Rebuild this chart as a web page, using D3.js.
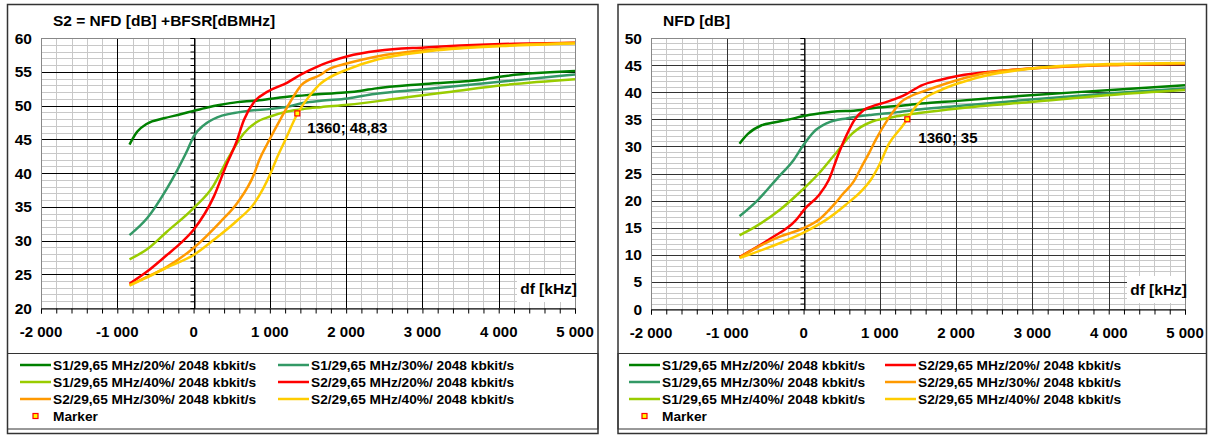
<!DOCTYPE html>
<html>
<head>
<meta charset="utf-8">
<script src="https://cdn.jsdelivr.net/npm/d3@7"></script>
<style>
  body { margin: 0; background: #fff; }
  svg { display: block; }
  text { font-family: Arial, "Liberation Sans", sans-serif; font-weight: bold; fill: #000; }
</style>
</head>
<body>
<svg id="chart" width="1208" height="437"></svg>
<script>
const series_names = [
    "S1/29,65 MHz/20%/ 2048 kbkit/s",
    "S1/29,65 MHz/30%/ 2048 kbkit/s",
    "S1/29,65 MHz/40%/ 2048 kbkit/s",
    "S2/29,65 MHz/20%/ 2048 kbkit/s",
    "S2/29,65 MHz/30%/ 2048 kbkit/s",
    "S2/29,65 MHz/40%/ 2048 kbkit/s"
];
const series_colors = ["#008000", "#339966", "#99cc00", "#ff0000", "#ff9900", "#ffcc00"];

const x_ticks = [-2000, -1000, 0, 1000, 2000, 3000, 4000, 5000];
const left_y_ticks = [20, 25, 30, 35, 40, 45, 50, 55, 60];
const right_y_ticks = [0, 5, 10, 15, 20, 25, 30, 35, 40, 45, 50];

// left chart: S2 = NFD + BFSR
const left_s1_20 = [[-840,44.2],[-740,46.1],[-610,47.3],[-390,48.1],[-170,48.7],[0,49.2],[180,49.7],[355,50.1],[575,50.5],[795,50.7],[1015,51.0],[1230,51.3],[1450,51.5],[1670,51.7],[2020,51.95],[2200,52.2],[2370,52.5],[3030,53.2],[3820,53.9],[4040,54.3],[5000,55.1]];
const left_s1_30 = [[-840,30.8],[-610,33.3],[-350,37.7],[-215,40.4],[-80,43.4],[0,45.4],[135,47.1],[310,48.25],[490,48.8],[705,49.2],[1015,49.5],[1230,49.8],[1450,50.4],[1670,50.7],[2020,51.05],[2370,51.7],[3030,52.4],[3820,53.3],[5000,54.6]];
const left_s1_40 = [[-840,27.2],[-610,28.7],[-350,31.3],[0,34.8],[265,38.2],[355,40.1],[440,41.9],[490,42.9],[660,45.9],[835,47.6],[1015,48.4],[1230,49.1],[1450,49.5],[1670,49.75],[2020,50.1],[2720,51.1],[3380,52.05],[4040,53.0],[5000,53.9]];
const left_s2_20 = [[-840,23.6],[-610,25.4],[-350,27.85],[-170,29.6],[0,31.6],[265,36.5],[430,41.2],[555,44.4],[660,47.85],[795,50.55],[970,52.05],[1230,53.4],[1410,54.6],[1630,55.8],[1760,56.4],[2020,57.3],[2420,58.1],[3030,58.6],[4040,59.1],[5000,59.3]];
const left_s2_30 = [[-840,23.4],[-610,24.6],[-350,26.1],[0,28.9],[355,32.8],[575,35.6],[795,39.9],[860,41.9],[970,44.4],[1145,48.1],[1365,52.3],[1410,53.0],[1670,54.6],[1760,55.3],[2020,56.25],[2420,57.3],[3030,58.2],[4040,58.9],[5000,59.3]];
const left_s2_40 = [[-840,23.3],[-610,24.55],[-350,26.0],[0,27.85],[265,30.1],[575,33.0],[795,35.5],[1015,40.1],[1080,41.9],[1190,44.6],[1365,48.85],[1540,51.7],[1670,53.3],[1760,54.0],[2020,55.36],[2420,56.85],[3030,57.97],[4040,58.8],[5000,59.2]];

// right chart: NFD
const right_s1_20 = [[-840,30.5],[-730,32.3],[-550,33.9],[-390,34.4],[-210,34.9],[0,35.6],[220,36.1],[440,36.5],[660,36.6],[880,37.0],[1100,37.3],[1280,37.5],[1540,37.9],[2020,38.4],[3020,39.5],[4030,40.4],[5000,41.3]];
const right_s1_30 = [[-840,17.1],[-600,20.1],[-340,24.2],[-130,27.5],[0,30.3],[135,32.7],[310,34.3],[575,35.2],[880,35.8],[1100,36.1],[1280,36.4],[1540,36.85],[2020,37.45],[3020,38.7],[4030,39.8],[5000,40.7]];
const right_s1_40 = [[-840,13.6],[-630,15.2],[-310,18.3],[-60,21.4],[200,25.0],[420,28.7],[640,32.4],[900,34.6],[1100,35.2],[1280,35.7],[1540,36.2],[2020,37.0],[3020,38.25],[4030,39.5],[5000,40.4]];
const right_s2_20 = [[-840,9.6],[-433,13.0],[-100,16.4],[25,18.6],[200,21.0],[330,23.8],[460,28.7],[595,33.0],[660,34.7],[790,36.7],[880,37.3],[1100,38.25],[1340,39.6],[1450,40.5],[1540,41.2],[1800,42.3],[2020,43.0],[2590,43.95],[3020,44.4],[4030,45.0],[5000,45.2]];
const right_s2_30 = [[-840,9.5],[-590,11.5],[-320,13.3],[0,14.9],[220,16.7],[395,19.2],[520,21.3],[660,23.6],[770,26.5],[860,28.8],[945,31.2],[1100,34.9],[1230,37.4],[1280,38.2],[1410,39.3],[1620,40.4],[2020,42.25],[2370,43.5],[3020,44.4],[4030,45.0],[5000,45.3]];
const right_s2_40 = [[-840,9.4],[-430,11.5],[0,14.1],[290,16.4],[550,19.2],[760,21.8],[880,23.8],[1000,26.8],[1120,30.5],[1270,33.3],[1360,35.0],[1450,37.0],[1540,38.4],[1800,40.4],[2020,41.6],[2370,43.0],[3020,44.4],[4030,45.2],[5000,45.4]];

const left_marker = [1360, 48.83];
const right_marker = [1360, 35];

const fmt = d3.formatLocale({decimal: ",", thousands: " ", grouping: [3], currency: ["", ""], minus: "-"}).format(",");

const svg = d3.select("#chart");

draw_chart = function(cfg) {
    const x = d3.scaleLinear().domain([-2000, 5000]).range([cfg.left, cfg.right]);
    const y = d3.scaleLinear().domain([cfg.ticks[0], cfg.ticks[cfg.ticks.length - 1]]).range([cfg.bottom, cfg.top]);

    // frame + legend box
    svg.append("rect")
        .attr("x", cfg.frame[0]).attr("y", 4.5)
        .attr("width", cfg.frame[1] - cfg.frame[0]).attr("height", 429)
        .attr("fill", "white").attr("stroke", "#333").attr("stroke-width", 1.5);
    svg.append("rect")
        .attr("x", cfg.frame[0]).attr("y", 353.5)
        .attr("width", cfg.frame[1] - cfg.frame[0]).attr("height", 75.5)
        .attr("fill", "none").attr("stroke", "#333").attr("stroke-width", 1);

    const g = svg.append("g");

    // minor grid
    g.append("g").selectAll("line")
        .data(d3.range(-2000, 5001, 200))
        .join("line")
        .attr("x1", d => Math.round(x(d)) + 0.5).attr("x2", d => Math.round(x(d)) + 0.5)
        .attr("y1", cfg.top).attr("y2", cfg.bottom)
        .attr("stroke", "#c8c8c8");
    g.append("g").selectAll("line")
        .data(d3.range(cfg.ticks[0], cfg.ticks[cfg.ticks.length - 1] + 1, 1))
        .join("line")
        .attr("y1", d => Math.round(y(d)) + 0.5).attr("y2", d => Math.round(y(d)) + 0.5)
        .attr("x1", cfg.left).attr("x2", cfg.right)
        .attr("stroke", "#c8c8c8");

    // major grid
    g.append("g").selectAll("line")
        .data(x_ticks.slice(1, -1))
        .join("line")
        .attr("x1", d => Math.round(x(d)) + 0.5).attr("x2", d => Math.round(x(d)) + 0.5)
        .attr("y1", cfg.top).attr("y2", cfg.bottom)
        .attr("stroke", cfg.major);
    g.append("g").selectAll("line")
        .data(cfg.ticks.slice(1, -1))
        .join("line")
        .attr("y1", d => Math.round(y(d)) + 0.5).attr("y2", d => Math.round(y(d)) + 0.5)
        .attr("x1", cfg.left).attr("x2", cfg.right)
        .attr("stroke", cfg.major);

    // plot border
    g.append("rect")
        .attr("x", cfg.left + 0.5).attr("y", cfg.top + 0.5)
        .attr("width", cfg.right - cfg.left).attr("height", cfg.bottom - cfg.top)
        .attr("fill", "none").attr("stroke", "#888");

    // df label box
    g.append("rect")
        .attr("x", cfg.right - 58).attr("y", cfg.bottom - 33)
        .attr("width", 58).attr("height", 27)
        .attr("fill", "white");
    g.append("text")
        .attr("x", cfg.right + 2).attr("y", cfg.bottom - 14)
        .attr("text-anchor", "end")
        .attr("font-size", "15.5px")
        .text("df [kHz]");

    // vertical axis through 0 with minor ticks
    const yaxis = g.append("g")
        .attr("transform", `translate(${Math.round(x(0)) + 0.5},0)`)
        .call(d3.axisLeft(y).tickValues(d3.range(cfg.ticks[0], cfg.ticks[cfg.ticks.length - 1] + 1, 1)).tickSize(4).tickFormat(""));
    yaxis.select(".domain").attr("stroke", "#000");

    // y labels on the left
    g.append("g").selectAll("text")
        .data(cfg.ticks)
        .join("text")
        .attr("x", cfg.left - 9).attr("y", d => y(d) + 5.5)
        .attr("text-anchor", "end")
        .attr("font-size", "15.5px")
        .text(d => d);

    // bottom axis
    const xaxis = g.append("g")
        .attr("transform", `translate(0,${cfg.bottom + 0.5})`)
        .call(d3.axisBottom(x).tickValues(d3.range(-2000, 5001, 200)).tickSize(5).tickFormat(""));
    xaxis.select(".domain").attr("stroke", "#000");
    g.append("g").selectAll("text")
        .data(x_ticks)
        .join("text")
        .attr("x", d => x(d)).attr("y", cfg.bottom + 29)
        .attr("text-anchor", "middle")
        .attr("font-size", "15px")
        .text(d => fmt(d));

    // title
    g.append("text")
        .attr("x", cfg.title_x).attr("y", 26)
        .attr("font-size", "15.5px")
        .text(cfg.title);

    // curves
    const line = d3.line().curve(d3.curveMonotoneX).x(d => x(d[0])).y(d => y(d[1]));
    g.append("g").selectAll("path")
        .data(cfg.series)
        .join("path")
        .attr("d", line)
        .attr("fill", "none")
        .attr("stroke", (d, i) => series_colors[i])
        .attr("stroke-width", 2.5)
        .attr("stroke-linejoin", "round");

    // marker
    g.append("rect")
        .attr("x", x(cfg.marker[0]) - 2.5).attr("y", y(cfg.marker[1]) - 2.5)
        .attr("width", 5).attr("height", 5)
        .attr("fill", "#ffff00").attr("stroke", "#ff0000").attr("stroke-width", 1.2);
    g.append("text")
        .attr("x", x(cfg.marker[0]) + cfg.label_dx).attr("y", y(cfg.marker[1]) + cfg.label_dy)
        .attr("font-size", "15px")
        .text(`${cfg.marker[0]}; ${String(cfg.marker[1]).replace(".", ",")}`);

    // legend
    const leg = g.append("g");
    cfg.legend.forEach(function(item) {
        const [idx, col, row] = item;
        const ly = 365 + row * 17;
        const lx = cfg.legend_cols[col];
        if (idx >= 0) {
            leg.append("line")
                .attr("x1", lx).attr("x2", lx + 31)
                .attr("y1", ly).attr("y2", ly)
                .attr("stroke", series_colors[idx]).attr("stroke-width", 2.5);
            leg.append("text")
                .attr("x", lx + 33).attr("y", ly + 5)
                .attr("font-size", "13.7px")
                .text(series_names[idx]);
        } else {
            leg.append("rect")
                .attr("x", lx + 13).attr("y", ly - 2.5)
                .attr("width", 5).attr("height", 5)
                .attr("fill", "#ffff00").attr("stroke", "#ff0000").attr("stroke-width", 1.2);
            leg.append("text")
                .attr("x", lx + 33).attr("y", ly + 5)
                .attr("font-size", "13.7px")
                .text("Marker");
        }
    });
}

draw_chart({
    frame: [7.5, 598],
    left: 41, right: 575, top: 38, bottom: 308,
    ticks: left_y_ticks,
    major: "#000",
    title: "S2 = NFD [dB] +BFSR[dBMHz]", title_x: 53,
    series: [left_s1_20, left_s1_30, left_s1_40, left_s2_20, left_s2_30, left_s2_40],
    marker: left_marker, label_dx: 10, label_dy: 20,
    legend_cols: [20, 278],
    legend: [[0, 0, 0], [1, 1, 0], [2, 0, 1], [3, 1, 1], [4, 0, 2], [5, 1, 2], [-1, 0, 3]]
});

draw_chart({
    frame: [618, 1206.5],
    left: 651, right: 1185, top: 38, bottom: 309,
    ticks: right_y_ticks,
    major: "#333",
    title: "NFD [dB]", title_x: 663,
    series: [right_s1_20, right_s1_30, right_s1_40, right_s2_20, right_s2_30, right_s2_40],
    marker: right_marker, label_dx: 11, label_dy: 24,
    legend_cols: [629, 885],
    legend: [[0, 0, 0], [1, 0, 1], [2, 0, 2], [3, 1, 0], [4, 1, 1], [5, 1, 2], [-1, 0, 3]]
});
</script>
</body>
</html>
